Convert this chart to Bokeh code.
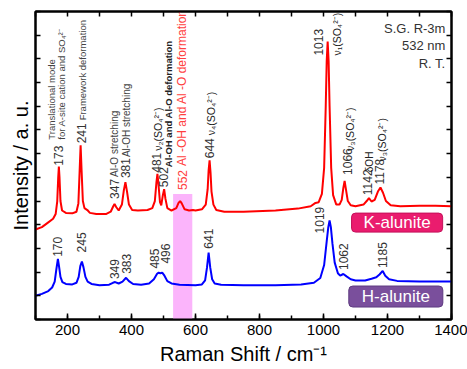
import math
from bokeh.plotting import figure
from bokeh.models import ColumnDataSource, Label, LinearAxis, SingleIntervalTicker, FixedTicker
from bokeh.core.properties import value
from bokeh.embed import file_html
from bokeh.resources import INLINE

# ---- spectra (Raman shift in cm-1, intensity in arbitrary units, stacked) ----
k_shift = [100, 120, 140, 155, 163, 168, 171, 173, 175, 178, 183, 195, 215, 228, 234, 238, 241, 244,
           248, 253, 262, 270, 290, 320, 335, 343, 347, 352, 360, 370, 376, 381, 386, 392, 402, 420,
           450, 465, 473, 478, 481, 484, 489, 493, 498, 502, 506, 512, 525, 540, 547, 552, 557, 566,
           580, 592, 600, 620, 632, 638, 641, 644, 647, 650, 656, 665, 690, 750, 850, 920, 960, 975,
           985, 995, 1002, 1007, 1010, 1013, 1016, 1019, 1024, 1030, 1040, 1050, 1057, 1062, 1066,
           1070, 1076, 1085, 1100, 1125, 1135, 1142, 1150, 1160, 1170, 1178, 1186, 1195, 1210, 1240,
           1300, 1350, 1400]
k_intensity = [3.80, 3.90, 4.10, 4.25, 4.45, 5.0, 6.0, 6.45, 6.0, 5.0, 4.6, 4.5, 4.48, 4.55, 4.9, 6.3,
               7.35, 6.3, 5.0, 4.7, 4.62, 4.5, 4.45, 4.45, 4.55, 4.78, 4.88, 4.75, 4.6, 4.85, 5.45,
               5.8, 5.4, 4.85, 4.62, 4.6, 4.62, 4.7, 5.0, 5.8, 6.15, 5.75, 4.95, 4.82, 5.25, 5.5, 5.1,
               4.7, 4.6, 4.7, 4.92, 5.0, 4.9, 4.65, 4.6, 4.62, 4.6, 4.65, 4.85, 5.5, 6.3, 6.72, 6.2,
               5.4, 4.85, 4.62, 4.55, 4.55, 4.6, 4.68, 4.78, 4.92, 4.95, 5.3, 6.4, 9.0, 10.9, 11.73,
               10.9, 9.0, 6.4, 5.25, 4.85, 4.85, 5.05, 5.55, 5.85, 5.5, 5.0, 4.82, 4.78, 4.85, 5.0,
               5.12, 4.98, 5.05, 5.4, 5.57, 5.35, 5.0, 4.82, 4.78, 4.8, 4.8, 4.78]

h_shift = [100, 120, 140, 152, 160, 165, 170, 174, 178, 184, 195, 215, 228, 235, 240, 245, 250, 256,
           263, 275, 300, 330, 342, 349, 360, 372, 383, 392, 405, 430, 455, 470, 480, 485, 490, 496,
           503, 512, 525, 550, 600, 620, 630, 636, 641, 646, 652, 660, 680, 750, 850, 930, 970, 990,
           1002, 1010, 1015, 1019, 1023, 1028, 1035, 1045, 1052, 1062, 1072, 1085, 1100, 1130, 1150,
           1165, 1175, 1185, 1193, 1205, 1230, 1300, 1400]
h_intensity = [1.0, 1.08, 1.2, 1.35, 1.6, 2.1, 2.56, 2.2, 1.8, 1.58, 1.5, 1.48, 1.55, 1.8, 2.25, 2.45,
               2.2, 1.8, 1.6, 1.5, 1.45, 1.47, 1.55, 1.58, 1.52, 1.6, 1.76, 1.62, 1.5, 1.47, 1.52, 1.7,
               1.93, 1.98, 1.95, 1.98, 1.85, 1.62, 1.52, 1.47, 1.45, 1.48, 1.65, 2.2, 2.82, 2.2, 1.7,
               1.52, 1.47, 1.45, 1.45, 1.48, 1.55, 1.75, 2.3, 3.3, 3.9, 4.18, 3.9, 3.2, 2.4, 1.95, 1.85,
               1.92, 1.82, 1.7, 1.65, 1.65, 1.72, 1.78, 1.9, 2.05, 1.85, 1.7, 1.63, 1.6, 1.6]

# ---- band assignments ----
k_peaks = [173, 241, 347, 381, 481, 502, 552, 644, 1013, 1066, 1142, 1178]
h_peaks = [170, 245, 349, 383, 485, 496, 641, 1019, 1062, 1185]
k_notes = {
    173: ["Translational mode", "for A-site cation and SO\u2084\u00b2\u207b"],
    241: ["Framework deformation"],
    347: ["Al-O stretching"],
    381: ["Al-OH stretching"],
    481: ["\u03bd\u2082(SO\u2084\u00b2\u207b)"],
    502: ["Al-OH and Al-O deformation"],
    552: ["Al -OH and Al -O deformation"],
    644: ["\u03bd\u2084(SO\u2084\u00b2\u207b)"],
    1013: ["\u03bd\u2081(SO\u2084\u00b2\u207b)"],
    1066: ["\u03bd\u2083(SO\u2084\u00b2\u207b)"],
    1142: ["\u03b4OH"],
    1178: ["\u03bd\u2083(SO\u2084\u00b2\u207b)"],
}
highlight_band = (530, 590)
highlight_top = 5.3
samples = ["K-alunite", "H-alunite"]
conditions = ["S.G. R-3m", "532 nm", "R. T."]

FONT = "Liberation Sans"

p = figure(width=467, height=369, x_range=(100, 1400), y_range=(0, 13),
           output_backend="svg", toolbar_location=None,
           min_border_left=35, min_border_right=16, min_border_top=11, min_border_bottom=50,
           x_axis_label="Raman Shift / cm\u207b\u00b9", y_axis_label="Intensity / a. u.")
p.grid.visible = False
p.outline_line_color = "black"
p.outline_line_width = 2
p.background_fill_color = "white"
p.border_fill_color = "white"

p.add_layout(LinearAxis(), "above")
p.add_layout(LinearAxis(), "right")

# bottom axis: labelled ticks every 200, minor every 100; other sides: unlabelled ticks only
p.below[0].ticker = SingleIntervalTicker(interval=200, num_minor_ticks=2)
p.above[0].ticker = FixedTicker(ticks=[], minor_ticks=list(range(100, 1401, 100)))
p.left[0].ticker = FixedTicker(ticks=[], minor_ticks=list(range(0, 14)))
p.right[0].ticker = FixedTicker(ticks=[], minor_ticks=list(range(0, 14)))

for ax in p.xaxis + p.yaxis:
    ax.major_tick_in = 6
    ax.major_tick_out = 0
    ax.minor_tick_in = 5
    ax.minor_tick_out = 0
    ax.axis_line_width = 2
    ax.major_tick_line_width = 1.5
    ax.minor_tick_line_width = 1.5
    ax.axis_label_text_font = FONT
    ax.axis_label_text_font_style = "normal"
    ax.axis_label_text_font_size = "20px"
    ax.axis_label_text_color = "black"
    ax.major_label_text_font = FONT
    ax.major_label_text_font_size = "15px"
    ax.major_label_text_color = "black"

p.below[0].minor_tick_in = 4
p.yaxis[0].major_label_standoff = 0
p.yaxis[0].axis_label_standoff = 4
p.xaxis[0].major_label_standoff = 7
p.xaxis[0].axis_label_standoff = 2

# highlighted band
p.quad(left=[highlight_band[0]], right=[highlight_band[1]], bottom=[0], top=[highlight_top],
       fill_color="#fbb4fb", line_color=None)

p.line(k_shift, k_intensity, line_color="#ff0000", line_width=2)
p.line(h_shift, h_intensity, line_color="#0000ff", line_width=2)

k_h = dict(zip(k_shift, k_intensity))
h_h = dict(zip(h_shift, h_intensity))

# number label placement (screen px offsets from the peak top)
k_num_off = {173: (0, -1), 241: (1, -2), 347: (0, -5), 381: (0, -4), 481: (-1, -1), 502: (-1, -2),
             552: (2, -11), 644: (0, -2), 1013: (-9, 14), 1066: (3, -6), 1142: (-1, -3), 1178: (-1, -3)}
h_num_off = {170: (0, -2), 245: (0, -9), 349: (-1, -3), 383: (0, -4), 485: (-4, -4), 496: (3, -9),
             641: (0, -4), 1019: (-10, 13), 1062: (0, -4), 1185: (0, -3)}

def num_source(peaks, heights, offs, color):
    return ColumnDataSource(dict(
        x=peaks, y=[heights[k] for k in peaks], text=[str(k) for k in peaks],
        dx=[offs[k][0] for k in peaks], dy=[offs[k][1] for k in peaks],
        color=[color(k) for k in peaks]))

ks = num_source(k_peaks, k_h, k_num_off, lambda k: "#ff4040" if k == 552 else "#333333")
hs = num_source(h_peaks, h_h, h_num_off, lambda k: "#333333")
for src in (ks, hs):
    p.text(x="x", y="y", text="text", source=src, angle=math.pi / 2, x_offset="dx", y_offset="dy",
           text_align="left", text_baseline="middle", text_font=value(FONT),
           text_font_size="12px", text_color="color")

# assignment notes: (peak, line index) -> dx, dy, size, color, style
note_style = {
    (173, 0): (-7, -27, "9.5px", "#444444", "normal"),
    (173, 1): (3, -27, "9.5px", "#444444", "normal"),
    (241, 0): (2, -25, "9.5px", "#444444", "normal"),
    (347, 0): (0, -27, "10px", "#444444", "normal"),
    (381, 0): (1, -25, "10px", "#444444", "normal"),
    (481, 0): (1, -23, "10.5px", "#222222", "normal"),
    (502, 0): (4, -22, "9.5px", "#222222", "bold"),
    (552, 0): (2, -35, "12px", "#ff4040", "normal"),
    (644, 0): (1, -25, "10.5px", "#222222", "normal"),
    (1013, 0): (9, 14, "10.5px", "#222222", "normal"),
    (1066, 0): (5, -30, "10.5px", "#222222", "normal"),
    (1142, 0): (1, -26, "10px", "#222222", "normal"),
    (1178, 0): (2, -26, "10.5px", "#222222", "normal"),
}
for (pk, i), (dx, dy, size, col, style) in note_style.items():
    p.text(x=[pk], y=[k_h[pk]], text=[k_notes[pk][i]], angle=math.pi / 2, x_offset=dx, y_offset=dy,
           text_align="left", text_baseline="middle", text_font=value(FONT),
           text_font_size=size, text_color=col, text_font_style=style)

# sample tags
p.add_layout(Label(x=1230, y=4.09, text=samples[0], text_align="center", text_baseline="middle",
                   text_color="white", text_font=FONT, text_font_size="17px",
                   background_fill_color="#ea1c6e", border_line_color="#c4105a",
                   border_radius=4, padding=(12, 0)))
p.add_layout(Label(x=1226, y=0.97, text=samples[1], text_align="center", text_baseline="middle",
                   text_color="white", text_font=FONT, text_font_size="17px",
                   background_fill_color="#7a4f9c", border_line_color="#5e3a80",
                   border_radius=4, padding=(13, 1)))

# measurement conditions
for i, t in enumerate(conditions):
    p.add_layout(Label(x=1381, y=12.3 - 0.74 * i, text=t, text_align="right",
                       text_baseline="alphabetic", text_color="#333333",
                       text_font=FONT, text_font_size="13px"))

open("out.html", "w").write(file_html(p, INLINE))
